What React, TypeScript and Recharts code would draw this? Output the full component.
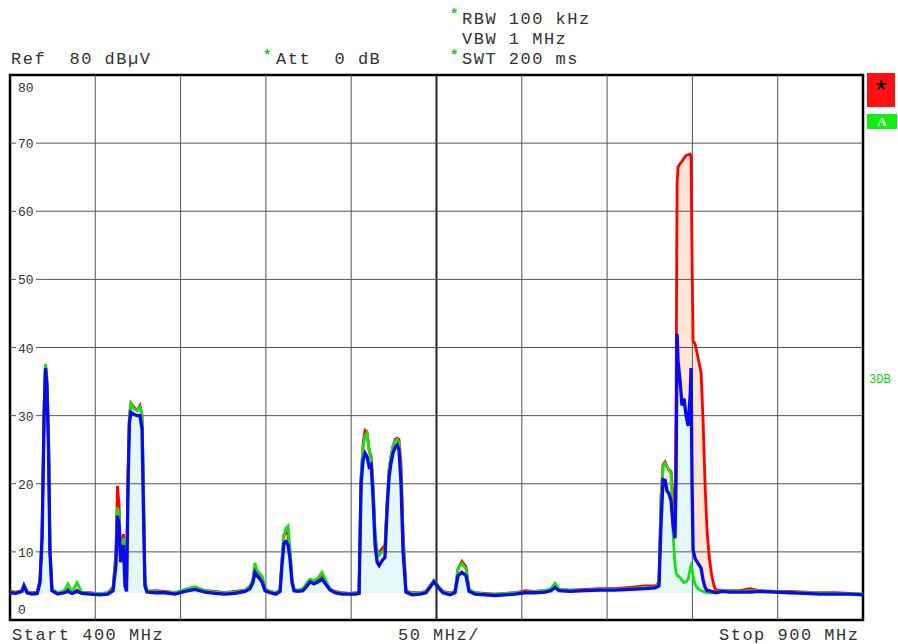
import { Area, CartesianGrid, ComposedChart, Line, ReferenceArea, ReferenceLine, XAxis, YAxis } from "recharts";

// sweep points (MHz), denser where the carriers are
const FREQ_MHZ = [
  400, 403.5, 407, 408.2, 410, 413, 416, 417.6, 418.8, 420,
  420.8, 421.7, 422.6, 423.4, 424.6, 428, 431.7, 434, 436.3, 439.3,
  442.2, 446.9, 452.8, 457.4, 460.4, 462.1, 463, 463.9, 464.8, 465.7,
  466.5, 467.4, 468.3, 469.2, 470, 470.9, 472.7, 474.4, 476.2, 477.4,
  478.3, 479.1, 480.3, 485, 490.9, 496.7, 502.6, 508.4, 514.3, 520.2,
  526, 531.9, 537.8, 540.7, 542.4, 543.6, 544.8, 546.5, 547.7, 549.5,
  552.4, 555.9, 558.3, 559.4, 560.6, 561.8, 563, 564.1, 565.3, 566.5,
  568.8, 571.7, 574.1, 575.9, 578.2, 580.6, 582.9, 585.2, 587.6, 590.5,
  594.6, 599.3, 602.8, 604.6, 605.8, 607, 608.1, 609.3, 610.5, 611.7,
  612.8, 614, 615.2, 616.4, 618.1, 619.8, 621, 622.2, 623.3, 624.5,
  625.7, 626.9, 628, 629.2, 630.4, 632.1, 635.6, 640.3, 643.8, 646.2,
  648.5, 650.9, 653.8, 657.9, 660.8, 662.6, 664.9, 667.3, 669.1, 672.6,
  678.4, 684.3, 690.2, 696, 701.9, 707.7, 713.6, 717.1, 719.5, 721.8,
  728.3, 737.1, 745.8, 754.6, 763.4, 772.2, 778.1, 780.4, 781.6, 782.8,
  784, 785.1, 786.3, 787.5, 788.6, 789.8, 790.4, 791, 791.6, 792.8,
  793.9, 795.1, 796.3, 797.5, 798.7, 799.2, 799.8, 800.4, 801.6, 803.3,
  805.1, 806.3, 807.4, 808.6, 809.8, 811, 812.7, 813.8, 817.4, 822,
  827.9, 833.8, 839.6, 848.4, 857.2, 866, 874.8, 883.6, 892.4, 900,
];

// trace 1 (red), dBµV
const TRACE_RED = [
  4.2, 4.1, 4.3, 5.0, 4.1, 4.0, 4.1, 6.0, 12.5, 31,
  37.4, 35, 26, 10.5, 4.4, 4.0, 4.1, 4.5, 4.0, 4.4,
  4.0, 4.0, 3.8, 4.0, 4.8, 10, 19.7, 17, 10, 11,
  12.6, 6, 4.5, 21, 30, 31.8, 31.2, 30.8, 31.5, 30,
  17, 5.5, 4.2, 4.3, 4.2, 4.0, 4.4, 4.8, 4.3, 4.2,
  4.0, 4.2, 4.4, 4.8, 5.8, 8.0, 7.0, 6.5, 6.3, 4.5,
  4.2, 4.0, 4.4, 8.5, 12.5, 13, 12.5, 10, 6, 4.4,
  4.3, 4.5, 5.3, 5.8, 5.6, 6.0, 6.8, 5.6, 4.5, 4.2,
  4.0, 3.9, 4.0, 4.0, 21, 26, 27.8, 27.5, 25, 24,
  20, 12, 10.2, 9.8, 10.5, 11, 17, 22, 24, 25.5,
  26.5, 26.7, 26.5, 23, 13, 4.3, 4.0, 4.0, 4.2, 5.0,
  5.8, 5.0, 4.2, 4.0, 4.2, 7.5, 8.6, 7.8, 4.4, 4.0,
  3.9, 3.8, 3.9, 4.0, 4.3, 4.2, 4.3, 4.5, 5.0, 4.5,
  4.4, 4.5, 4.6, 4.6, 4.8, 5.0, 5.0, 5.5, 18, 22.8,
  23.2, 22.5, 22, 21.8, 18, 14, 30, 64, 66.5, 67,
  67.3, 67.8, 68.2, 68.3, 68.4, 68, 53, 41, 40.5, 38.5,
  36.3, 29, 20, 13, 9.5, 7, 5, 4.4, 4.4, 4.3,
  4.3, 4.6, 4.3, 4.2, 4.2, 4.1, 4.0, 4.0, 3.9, 3.8,
];

// trace 2 (green)
const TRACE_GREEN = [
  4.1, 4.0, 4.3, 5.2, 4.2, 3.9, 4.0, 5.8, 12.5, 31,
  37.6, 35.5, 27, 11, 4.5, 4.0, 4.3, 5.3, 4.1, 5.5,
  4.0, 3.9, 3.9, 4.0, 4.6, 9.5, 16.5, 15.5, 9.5, 10.5,
  12, 5.5, 4.5, 21, 30, 31.8, 31, 30.8, 31.3, 30,
  20, 6, 4.3, 4.2, 4.1, 4.0, 4.5, 4.9, 4.3, 4.1,
  4.0, 4.1, 4.4, 5.0, 6.0, 8.4, 7.3, 6.8, 6.5, 4.6,
  4.2, 4.0, 4.5, 9, 12.5, 13.5, 13.8, 10.5, 6, 4.5,
  4.4, 4.6, 5.5, 6.0, 5.8, 6.2, 7.0, 5.8, 4.6, 4.1,
  3.9, 3.9, 3.9, 4.0, 21, 25.5, 27, 27.5, 25, 23.5,
  20, 13, 10, 9.5, 10, 10.5, 17, 22, 24, 25.5,
  26.3, 26.5, 26, 22, 12, 4.3, 3.9, 4.0, 4.2, 5.0,
  5.8, 5.0, 4.1, 3.9, 4.2, 7.5, 8.3, 7.5, 4.5, 4.0,
  3.8, 3.8, 3.9, 4.0, 4.1, 4.2, 4.3, 4.6, 5.4, 4.5,
  4.4, 4.4, 4.5, 4.5, 4.6, 4.8, 4.8, 5.5, 18, 22.5,
  23, 22.5, 22, 21.5, 13, 8, 7, 6.5, 6.5, 6.2,
  5.8, 5.5, 5.6, 6, 7.5, 8, 7.5, 6.5, 5.2, 4.6,
  4.3, 4.2, 4.1, 4.0, 4.0, 4.0, 4.0, 4.1, 4.3, 4.3,
  4.2, 4.3, 4.3, 4.2, 4.1, 4.0, 4.0, 3.9, 3.9, 3.8,
];

// trace 3 (blue)
const TRACE_BLUE = [
  4.0, 3.9, 4.2, 5.0, 4.0, 3.8, 3.9, 5.5, 12, 30,
  37, 34, 25, 10, 4.3, 3.8, 4.0, 4.2, 3.9, 4.2,
  3.9, 3.8, 3.7, 3.8, 4.3, 8, 15.3, 14, 8.5, 9.5,
  11, 5, 4.2, 20, 29, 30.5, 30.2, 30, 30, 28,
  15, 5, 4.1, 4.0, 4.0, 3.8, 4.2, 4.5, 4.1, 3.9,
  3.8, 3.9, 4.2, 4.6, 5.5, 7.0, 6.5, 6.0, 5.6, 4.3,
  4.0, 3.8, 4.2, 8, 11.3, 11.5, 11, 9, 5.5, 4.3,
  4.2, 4.3, 5.0, 5.6, 5.3, 5.6, 6.0, 5.2, 4.4, 4.0,
  3.8, 3.8, 3.8, 3.9, 20, 23.5, 24.5, 24, 22.5, 22.8,
  18, 11, 8.5, 8.0, 8.7, 9.2, 16, 21, 23, 24.5,
  25.3, 25.7, 25, 20, 10, 4.1, 3.7, 3.8, 4.0, 4.8,
  5.6, 4.8, 4.0, 3.7, 4.0, 6.5, 7.0, 6.5, 4.2, 3.8,
  3.7, 3.6, 3.7, 3.8, 4.0, 4.0, 4.1, 4.3, 4.8, 4.3,
  4.2, 4.3, 4.4, 4.4, 4.5, 4.6, 4.7, 5.0, 14, 20.6,
  20.5, 19, 18.5, 17.5, 14, 12, 20, 42, 38, 35,
  31.5, 32.5, 30, 28.5, 33, 37, 20, 10.3, 9.0, 8.3,
  7.6, 5.8, 4.8, 4.3, 4.3, 4.2, 4.1, 4.0, 4.2, 4.1,
  4.1, 4.1, 4.2, 4.1, 4.0, 3.9, 3.8, 3.8, 3.8, 3.7,
];

const FREQ_TICKS = [400, 450, 500, 550, 600, 650, 700, 750, 800, 850, 900];
const LEVEL_TICKS = [0, 10, 20, 30, 40, 50, 60, 70, 80];

const data = FREQ_MHZ.map((f, i) => ({
  f,
  red: TRACE_RED[i],
  green: TRACE_GREEN[i],
  blue: TRACE_BLUE[i],
}));

const MONO = '"Liberation Mono", "DejaVu Sans Mono", monospace';
const INK = "#333";
const STAR = "#11cc11";

// level label drawn inside the plot, on a white patch over the grid line
function levelLabel(v: number) {
  return (props: any) => {
    const vb = props.viewBox || {};
    const y = vb.y ?? 0;
    const x = (vb.x ?? 0) + 8;
    const dy = v === 80 ? 12 : v === 0 ? -11 : 0;
    const text = String(v);
    return (
      <g>
        <rect x={x - 2} y={y + dy - 7} width={text.length * 8 + 4} height={14} fill="#fff" />
        <text x={x} y={y + dy} dy={5} fontFamily={MONO} fontSize={13} fill={INK}>
          {text}
        </text>
      </g>
    );
  };
}

function Txt({ x, y, children, color = INK, size = 17 }: any) {
  return (
    <div
      style={{
        position: "absolute",
        left: x,
        top: y - 8,
        fontFamily: MONO,
        fontSize: size,
        letterSpacing: 1.5,
        lineHeight: "16px",
        whiteSpace: "pre",
        color,
      }}
    >
      {children}
    </div>
  );
}

function Star({ x, y }: { x: number; y: number }) {
  return (
    <div
      style={{
        position: "absolute",
        left: x,
        top: y - 7,
        fontFamily: MONO,
        fontSize: 14,
        lineHeight: "14px",
        fontWeight: "bold",
        color: STAR,
      }}
    >
      *
    </div>
  );
}

export default function App() {
  return (
    <div style={{ position: "absolute", left: 0, top: 0, width: 898, height: 644, background: "#fff" }}>
      <ComposedChart width={898} height={644} data={data} margin={{ top: 75, right: 35, bottom: 24, left: 10 }}>
        <CartesianGrid stroke="#444" strokeWidth={1} vertical={false} horizontal={false} />
        <XAxis type="number" dataKey="f" domain={[400, 900]} ticks={FREQ_TICKS} hide />
        <YAxis type="number" domain={[0, 80]} ticks={LEVEL_TICKS} hide allowDataOverflow />
        {FREQ_TICKS.slice(1, -1).map((f) => (
          <ReferenceLine
            key={"f" + f}
            x={f}
            stroke={f === 650 ? "#222" : "#555"}
            strokeWidth={f === 650 ? 2 : 1}
          />
        ))}
        {LEVEL_TICKS.slice(1, -1).map((v) => (
          <ReferenceLine key={"l" + v} y={v} stroke="#555" strokeWidth={1} />
        ))}
        <Area
          type="linear"
          dataKey="red"
          baseValue={4}
          stroke="none"
          fill="#fddcc8"
          fillOpacity={0.75}
          isAnimationActive={false}
          activeDot={false}
        />
        <Area
          type="linear"
          dataKey="blue"
          baseValue={4}
          stroke="none"
          fill="#e2fafc"
          fillOpacity={0.9}
          isAnimationActive={false}
          activeDot={false}
        />
        <Line type="linear" dataKey="red" stroke="#ff0000" strokeWidth={2.8} dot={false} activeDot={false} isAnimationActive={false} />
        <Line type="linear" dataKey="green" stroke="#18e018" strokeWidth={2.8} dot={false} activeDot={false} isAnimationActive={false} />
        <Line type="linear" dataKey="blue" stroke="#0a0aee" strokeWidth={3.3} dot={false} activeDot={false} isAnimationActive={false} />
        {LEVEL_TICKS.map((v) => (
          <ReferenceLine
            key={"t" + v}
            y={v}
            segment={[{ x: 400, y: v }, { x: 401, y: v }]}
            stroke="none"
            label={levelLabel(v)}
          />
        ))}
        <ReferenceArea x1={400} x2={900} y1={0} y2={80} fill="none" stroke="#000" strokeWidth={2.5} ifOverflow="visible" />
      </ComposedChart>

      <Star x={450} y={15} />
      <Txt x={462} y={20}>RBW 100 kHz</Txt>
      <Txt x={462} y={40}>VBW 1 MHz</Txt>
      <Star x={450} y={56} />
      <Txt x={462} y={60}>SWT 200 ms</Txt>
      <Txt x={11} y={60}>Ref  80 dBµV</Txt>
      <Star x={263} y={56} />
      <Txt x={276} y={60}>Att  0 dB</Txt>

      <Txt x={12} y={636}>Start 400 MHz</Txt>
      <Txt x={398} y={636}>50 MHz/</Txt>
      <Txt x={719} y={636}>Stop 900 MHz</Txt>

      <div
        style={{
          position: "absolute",
          left: 867,
          top: 73,
          width: 28,
          height: 34,
          background: "#ff1111",
          color: "#000",
          fontFamily: MONO,
          fontSize: 28,
          lineHeight: "40px",
          textAlign: "center",
        }}
      >
        *
      </div>
      <div
        style={{
          position: "absolute",
          left: 867,
          top: 114,
          width: 30,
          height: 15,
          background: "#11ee11",
          color: "#fff",
          fontFamily: '"Liberation Serif", serif',
          fontWeight: "bold",
          fontSize: 13,
          lineHeight: "15px",
          textAlign: "center",
        }}
      >
        A
      </div>
      <div
        style={{
          position: "absolute",
          left: 869,
          top: 373,
          fontFamily: MONO,
          fontSize: 12,
          lineHeight: "14px",
          color: STAR,
        }}
      >
        3DB
      </div>
    </div>
  );
}
